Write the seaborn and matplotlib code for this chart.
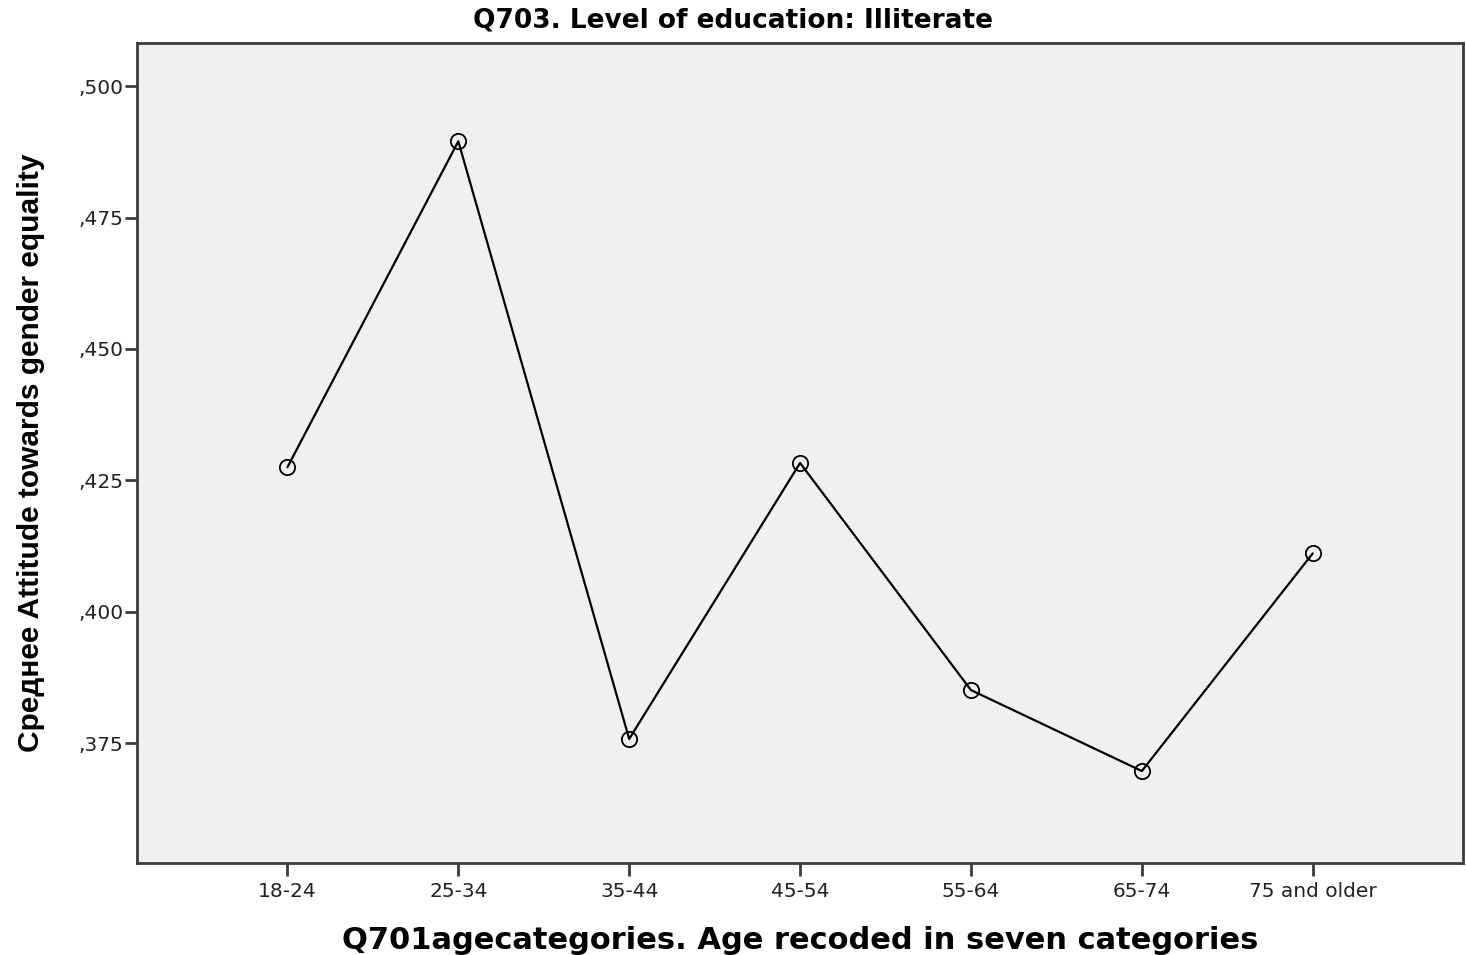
import numpy as np
import pandas as pd
import matplotlib
matplotlib.use("Agg")
import matplotlib.pyplot as plt
import seaborn as sns

sns.set_style("white")
plt.rcParams['font.family'] = ['DejaVu Sans']

# data
age_groups = ["18-24", "25-34", "35-44", "45-54", "55-64", "65-74", "75 and older"]
mean_attitude = [0.4275, 0.4895, 0.3758, 0.4283, 0.3851, 0.3697, 0.4111]
y_ticks = [0.375, 0.400, 0.425, 0.450, 0.475, 0.500]
y_tick_labels = [",375", ",400", ",425", ",450", ",475", ",500"]

df = pd.DataFrame({"age": age_groups, "attitude": mean_attitude})

fig = plt.figure(figsize=(14.66, 9.55), dpi=100)
ax = fig.add_axes([0.0935, 0.0963, 0.9045, 0.8587])
ax.set_facecolor("#f0f0f0")

sns.lineplot(data=df, x="age", y="attitude", sort=False, ax=ax,
             color="black", linewidth=1.6, marker="o", markersize=11,
             markerfacecolor="none", markeredgecolor="black", markeredgewidth=1.3)

ax.set_xlim(-0.88, 6.88)
ax.set_ylim(0.3522, 0.5082)
ax.set_yticks(y_ticks)
ax.set_yticklabels(y_tick_labels)

for s in ax.spines.values():
    s.set_color("#3c3c3c")
    s.set_linewidth(2)
    s.set_visible(True)

ax.tick_params(axis="both", direction="out", length=9, width=2, color="#3c3c3c",
               labelsize=14.5, labelcolor="#222222", bottom=True, left=True)
ax.tick_params(axis="y", pad=1)
ax.tick_params(axis="x", pad=5)

# title is centred on the figure, not the axes
fig.text(0.5, 0.979, "Q703. Level of education: Illiterate", fontsize=19,
         fontweight="bold", ha="center", va="center", color="black")
ax.set_xlabel("Q701agecategories. Age recoded in seven categories", fontsize=22,
              fontweight="bold", labelpad=18, color="black")
ax.set_ylabel("Среднее Attitude towards gender equality", fontsize=21.5,
              fontweight="bold", labelpad=24, color="black",
              family=["Liberation Sans", "DejaVu Sans"])

fig.savefig("out.png", dpi=100)
